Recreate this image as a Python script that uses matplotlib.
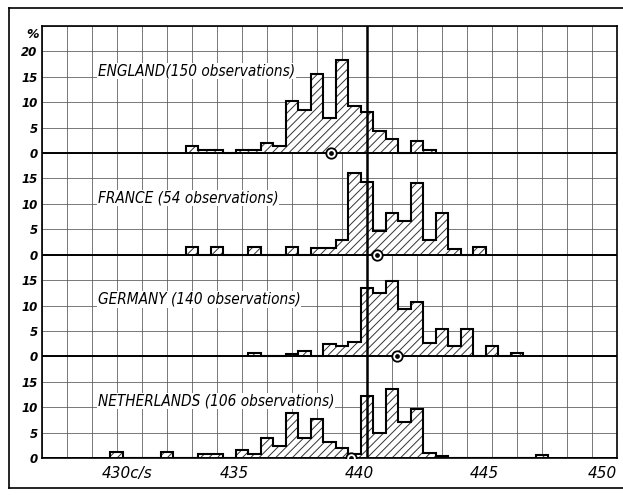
import numpy as np
import matplotlib
matplotlib.use("Agg")
import matplotlib.pyplot as plt
from matplotlib.lines import Line2D

# histogram heights in %, bins 0.5 c/s wide, first bin starts at *_start
eng_start = 432.75
eng_h = [1.33, 0.67, 0.67, 0, 0.67, 0.67, 2.0, 1.33, 10.2, 8.4, 15.5, 6.8,
         18.3, 9.3, 8.1, 4.4, 2.8, 0, 2.3, 0.67]
fra_start = 432.75
fra_h = [1.5, 0, 1.5, 0, 0, 1.5, 0, 0, 1.5, 0, 1.4, 1.4, 2.9, 16.0, 14.3,
         4.7, 8.3, 6.7, 14.1, 2.9, 8.3, 1.2, 0, 1.5]
ger_start = 435.25
ger_h = [0.6, 0, 0, 0.5, 1.0, 0, 2.5, 2.1, 2.8, 13.5, 12.4, 14.8, 9.3, 10.6,
         2.7, 5.4, 2.0, 5.4, 0, 2.1, 0, 0.6]
ned_start = 429.75
ned_h = [1.1, 0, 0, 0, 1.1, 0, 0, 0.8, 0.8, 0, 1.6, 0.8, 3.9, 2.4, 8.9, 3.9,
         7.7, 3.2, 2.0, 0.8, 12.2, 5.0, 13.5, 7.1, 9.6, 1.0, 0.4, 0, 0, 0, 0,
         0, 0, 0, 0.5]

countries = ["ENGLAND(150 observations)", "FRANCE (54 observations)",
             "GERMANY (140 observations)", "NETHERLANDS (106 observations)"]
starts = [eng_start, fra_start, ger_start, ned_start]
heights = [eng_h, fra_h, ger_h, ned_h]
means = [438.55, 440.4, 441.2, 439.35]
bases = [60, 40, 20, 0]
label_y = [16.1, 11.2, 11.2, 11.2]

ytick_pos = [0, 5, 10, 15, 20, 25, 30, 35, 40, 45, 50, 55, 60, 65, 70, 75, 80]
ytick_lab = ["0", "5", "10", "15"] * 4 + ["20"]
xtick_pos = [430, 435, 440, 445, 450]
xtick_lab = ["430c/s", "435", "440", "445", "450"]

plt.rcParams["hatch.linewidth"] = 0.7

fig = plt.figure(figsize=(6.23, 4.95), dpi=100)
ax = fig.add_axes([41.7/623, 1-458/495, (617-41.7)/623, (458-26)/495])
ax.set_xlim(427, 450)
ax.set_ylim(0, 85)

# grid
for x in range(427, 451):
    ax.axvline(x, color="#555555", lw=0.55, zorder=1)
for y in range(0, 86, 5):
    ax.axhline(y, color="#555555", lw=0.55, zorder=1)

for name, st, h, m, b, ly in zip(countries, starts, heights, means, bases, label_y):
    h = np.array(h)
    edges = st + 0.5*np.arange(len(h)+1)
    ax.stairs(h+b, edges, baseline=b, fill=True, facecolor="white",
              hatch="////", edgecolor="#333333", lw=0, zorder=3)
    ax.stairs(h+b, edges, baseline=b, fill=False, color="black", lw=1.5, zorder=4)
    ax.axhline(b, color="black", lw=1.4, zorder=4)
    ax.plot(m, b, marker="o", ms=7.5, mfc="white", mec="black", mew=1.3, zorder=6)
    ax.plot(m, b, marker="o", ms=2.4, color="black", zorder=7)
    ax.text(429.25, b+ly, name, fontsize=11, style="italic", stretch="condensed",
            ha="left", va="center", zorder=5,
            bbox=dict(facecolor="white", edgecolor="none", pad=0.5))

ax.axvline(440, color="black", lw=1.8, zorder=5)

for s in ax.spines.values():
    s.set_linewidth(1.2)

ax.set_yticks(ytick_pos)
ax.set_yticklabels(ytick_lab, fontsize=8.5, style="italic", fontweight="bold")
ax.set_xticks([])
ax.tick_params(length=0, pad=3)
# x labels written slightly left of their lines, like the original
for x, lab in zip(xtick_pos, xtick_lab):
    if lab.endswith("c/s"):
        ax.text(x - 0.6, -1.6, lab, fontsize=11, style="italic", ha="left", va="top")
    elif x == 450:
        ax.text(x, -1.6, lab, fontsize=11, style="italic", ha="right", va="top")
    else:
        ax.text(x - 0.3, -1.6, lab, fontsize=11, style="italic", ha="center", va="top")
ax.text(426.9, 83.3, "%", fontsize=9, style="italic", fontweight="bold",
        ha="right", va="center")

# outer frame of the figure
fig.add_artist(Line2D([9/623, 9/623], [1-8/495, 1-488/495], color="black", lw=1.2))
fig.add_artist(Line2D([9/623, 1], [1-8/495, 1-8/495], color="black", lw=1.2))
fig.add_artist(Line2D([9/623, 1], [1-488/495, 1-488/495], color="black", lw=1.2))

fig.savefig("out.png", dpi=100)
